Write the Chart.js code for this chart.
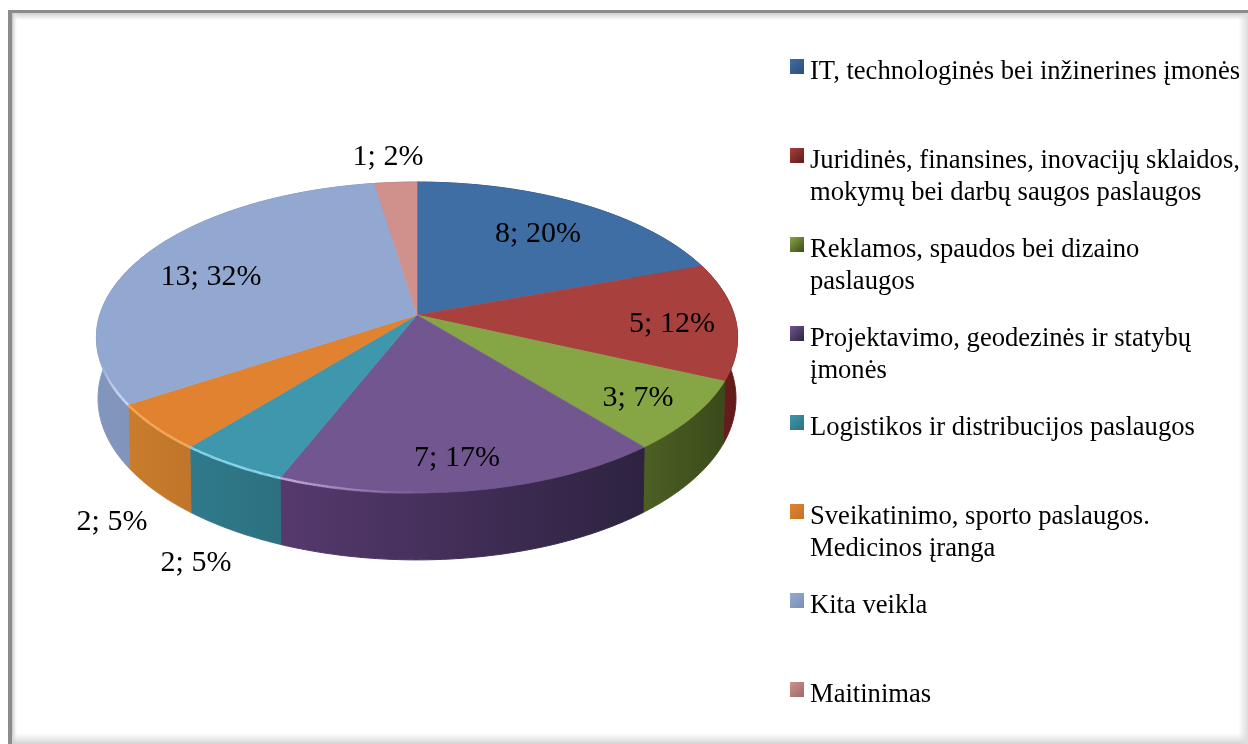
<!DOCTYPE html>
<html>
<head>
<meta charset="utf-8">
<style>
  html, body { margin: 0; padding: 0; background: #fff; }
  canvas { display: block; }
</style>
<script src="https://cdn.jsdelivr.net/npm/chart.js@4"></script>
</head>
<body>
<canvas id="pie" width="1248" height="744"></canvas>
<script>
// data
const categories = [
  ['IT, technologinės bei inžinerines įmonės'],
  ['Juridinės, finansines, inovacijų sklaidos,', 'mokymų bei darbų saugos paslaugos'],
  ['Reklamos, spaudos bei dizaino', 'paslaugos'],
  ['Projektavimo, geodezinės ir statybų', 'įmonės'],
  ['Logistikos ir distribucijos paslaugos'],
  ['Sveikatinimo, sporto paslaugos.', 'Medicinos įranga'],
  ['Kita veikla'],
  ['Maitinimas']
];
const counts = [8, 5, 3, 7, 2, 2, 13, 1];

// colours
const topColors = ['#3f6ea5', '#a8403e', '#86a545', '#71568f', '#3f97ae', '#e0822f', '#93a8d1', '#d0908c'];
const wallLeft = ['#2c4d75', '#7a2322', '#4c6024', '#56396e', '#2f7a8c', '#c97c2c', '#8295bc', '#9a6a68'];
const wallRight = ['#2c4d75', '#5e1a1a', '#3b4a1b', '#2d2340', '#2d7080', '#c0752a', '#7c90b6', '#9a6a68'];
const rimColors = [null, null, null, '#c0a8dc', '#8fdcf0', '#f8b060', '#c4d4f0', null];

// where the text sits
const labelSpots = [[538, 242], [672, 332], [638, 406], [457, 466], [196, 571], [112, 530], [211, 285], [388, 165]];
const legendTop = 79, legendStep = 89, legendLine = 31.5, legendX = 810, markerX = 790;

const stretchX = 1.007, stretchY = 0.483, lean = 0.1447;

function project(el, a, drop) {
  const u = Math.cos(a), v = Math.sin(a), w = 1 - lean * v;
  const R = el.outerRadius;
  const x = R * stretchX * u / w, y = R * stretchY * v / w;
  if (!drop) return [el.x + x, el.y + y];
  // underside of the disc, a little narrower because it is further away
  return [el.x + x * 0.995, el.y + y + 60 + 7 * v];
}

function rimPoints(el, drop) {
  const pts = [], n = 90;
  for (let i = 0; i <= n; i++) {
    pts.push(project(el, el.startAngle + (el.endAngle - el.startAngle) * i / n, drop));
  }
  return pts;
}

function tracePath(ctx, pts) {
  pts.forEach((p, i) => i ? ctx.lineTo(p[0], p[1]) : ctx.moveTo(p[0], p[1]));
}

const frame = {
  id: 'frame',
  beforeDraw(chart) {
    const ctx = chart.ctx, W = chart.width, H = chart.height;
    ctx.save();
    ctx.fillStyle = '#fff';
    ctx.fillRect(0, 0, W, H);
    let g = ctx.createLinearGradient(0, 13, 0, 20);
    g.addColorStop(0, '#d0d0d0'); g.addColorStop(1, '#fff');
    ctx.fillStyle = g; ctx.fillRect(8, 13, W - 8, 7);
    g = ctx.createLinearGradient(12, 0, 18, 0);
    g.addColorStop(0, '#c4c4c4'); g.addColorStop(1, 'rgba(255,255,255,0)');
    ctx.fillStyle = g; ctx.fillRect(12, 13, 6, H - 13);
    g = ctx.createLinearGradient(0, 733, 0, H);
    g.addColorStop(0, 'rgba(225,225,225,0)'); g.addColorStop(1, '#d2d2d2');
    ctx.fillStyle = g; ctx.fillRect(8, 733, W - 8, 11);
    g = ctx.createLinearGradient(1238, 0, W, 0);
    g.addColorStop(0, 'rgba(225,225,225,0)'); g.addColorStop(1, '#dcdcdc');
    ctx.fillStyle = g; ctx.fillRect(1238, 13, 10, H - 13);
    ctx.fillStyle = '#8c8c8c';
    ctx.fillRect(8, 10, W - 8, 3);
    ctx.fillRect(8, 10, 4, H - 10);
    ctx.restore();
  }
};

const tiltedPie = {
  id: 'tiltedPie',
  beforeDatasetDraw(chart, args) {
    const ctx = chart.ctx, arcs = args.meta.data;
    ctx.save();
    // walls first, the top face covers whatever is behind it
    arcs.forEach((el, i) => {
      const upper = rimPoints(el, false), lower = rimPoints(el, true).reverse();
      const xs = upper.concat(lower).map(p => p[0]);
      const g = ctx.createLinearGradient(Math.min(...xs), 0, Math.max(...xs), 0);
      g.addColorStop(0, wallLeft[i]);
      g.addColorStop(1, wallRight[i]);
      ctx.fillStyle = g;
      ctx.strokeStyle = g;
      ctx.lineWidth = 1;
      ctx.beginPath();
      tracePath(ctx, upper.concat(lower));
      ctx.closePath();
      ctx.fill();
      ctx.stroke();
    });
    arcs.forEach((el, i) => {
      ctx.fillStyle = topColors[i];
      ctx.strokeStyle = topColors[i];
      ctx.lineWidth = 0.6;
      ctx.beginPath();
      tracePath(ctx, [[el.x, el.y]].concat(rimPoints(el, false)));
      ctx.closePath();
      ctx.fill();
      ctx.stroke();
    });
    // light edge along the front left of the disc
    ctx.lineWidth = 2.5;
    arcs.forEach((el, i) => {
      if (!rimColors[i]) return;
      const pts = rimPoints(el, false);
      ctx.strokeStyle = rimColors[i];
      for (let k = 1; k < pts.length; k++) {
        const x = pts[k][0], y = pts[k][1];
        if (y < 360) continue;
        ctx.globalAlpha = Math.min(1, Math.max(0, (430 - x) / 150)) * Math.min(1, (y - 360) / 30);
        ctx.beginPath();
        ctx.moveTo(pts[k - 1][0], pts[k - 1][1]);
        ctx.lineTo(x, y);
        ctx.stroke();
      }
    });
    ctx.restore();
    return false;
  },
  afterDatasetsDraw(chart) {
    const ctx = chart.ctx;
    const total = counts.reduce((a, b) => a + b, 0);
    ctx.save();
    ctx.fillStyle = '#000';
    ctx.textBaseline = 'alphabetic';
    ctx.textAlign = 'center';
    ctx.font = '30px "Liberation Serif"';
    counts.forEach((c, i) => {
      ctx.fillText(c + '; ' + Math.round(c / total * 100) + '%', labelSpots[i][0], labelSpots[i][1]);
    });
    // legend, same pitch for every entry
    ctx.textAlign = 'left';
    ctx.font = '26.6px "Liberation Serif"';
    categories.forEach((lines, i) => {
      const y = legendTop + legendStep * i;
      const g = ctx.createLinearGradient(markerX, y - 20, markerX + 14, y - 5);
      g.addColorStop(0, topColors[i]);
      g.addColorStop(1, wallRight[i]);
      ctx.fillStyle = g;
      ctx.fillRect(markerX, y - 20, 14, 15);
      ctx.fillStyle = '#000';
      lines.forEach((t, k) => ctx.fillText(t, legendX, y + k * legendLine));
    });
    ctx.restore();
  }
};

new Chart(document.getElementById('pie'), {
  type: 'pie',
  data: {
    labels: categories,
    datasets: [{ data: counts, backgroundColor: topColors, borderWidth: 0 }]
  },
  options: {
    responsive: false,
    animation: false,
    layout: { padding: { left: 102, right: 516, top: 0, bottom: 114 } },
    plugins: { legend: { display: false }, tooltip: { enabled: false } }
  },
  plugins: [frame, tiltedPie]
});
</script>
</body>
</html>
